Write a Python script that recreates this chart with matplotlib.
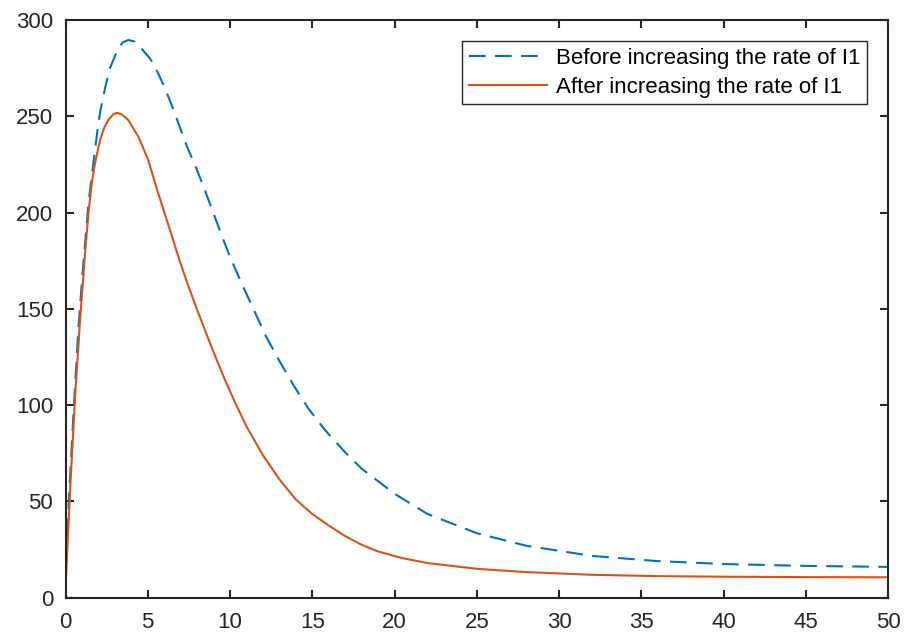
import matplotlib
matplotlib.use("Agg")
import matplotlib.pyplot as plt

# Data
t_before = [0, 0.2, 0.5, 0.8, 1.1, 1.4, 1.7, 1.96, 2.1, 2.4, 2.7, 3.2, 3.5, 3.82, 4.2,
            4.53, 5.14, 5.54, 6.05, 6.49, 6.9, 7.4, 8, 8.5, 9, 9.5, 10, 10.8, 11.5, 12.2,
            13, 13.85, 14.76, 15.78, 17, 18, 20, 22, 25, 28, 32, 36, 40, 45, 50]
y_before = [5.5, 50, 98, 142, 175, 205, 226, 243.7, 252, 264.5, 275, 285.2, 288.5, 289.6, 288.8,
            286, 280, 274, 264.5, 255, 245.5, 234, 222, 211, 199.5, 188, 177, 161.5, 148.5, 135.5,
            123, 110.5, 98.3, 87, 75.5, 67, 54, 43.5, 33.5, 27, 21.7, 19, 17.5, 16.5, 16]

t_after = [0, 0.3, 0.6, 0.9, 1.2, 1.4, 1.59, 1.79, 2.1, 2.35, 2.6, 2.9, 3.15, 3.45, 3.82,
           4.43, 5.03, 5.54, 6.2, 6.9, 7.4, 8, 8.5, 9, 9.7, 10.3, 11, 12, 13, 14, 15, 16, 17, 18, 19,
           20.5, 22, 25, 28, 32, 36, 40, 45, 50]
y_after = [5.5, 59, 107, 146, 180, 200, 215, 225.5, 237.6, 244, 248, 251, 251.8, 250.8, 248,
           239.4, 227.3, 212.6, 195, 176, 163.5, 149.5, 138.5, 127.5, 113, 101.5, 89, 74, 61.5, 51, 43.5,
           37.5, 32, 27.5, 24, 20.5, 18, 15, 13.3, 11.9, 11.2, 10.9, 10.7, 10.6]

labels = ["Before increasing the rate of I1", "After increasing the rate of I1"]
x_ticks = list(range(0, 51, 5))
y_ticks = list(range(0, 301, 50))

plt.rcParams['font.family'] = ['Liberation Sans', 'DejaVu Sans']

fig = plt.figure(figsize=(9.06, 6.37), dpi=100)
ax = fig.add_axes([65.5 / 906, 39.3 / 637, (888 - 65.5) / 906, (597.7 - 20) / 637])

ax.plot(t_before, y_before, color='#0072BD', lw=1.5, linestyle=(0, (8, 4.5)), label=labels[0])
ax.plot(t_after, y_after, color='#D95319', lw=1.5, label=labels[1])

ax.set_xlim(0, 50)
ax.set_ylim(0, 300)
ax.set_xticks(x_ticks)
ax.set_yticks(y_ticks)

dark = '#262626'
for s in ax.spines.values():
    s.set_color(dark)
    s.set_linewidth(1.5)
ax.tick_params(direction='in', length=6, width=1.5, colors=dark, labelsize=16,
               top=True, right=True)
ax.tick_params(axis='x', pad=10)
ax.tick_params(axis='y', pad=9)

leg = ax.legend(loc='upper right', fontsize=16, handlelength=3.5, handletextpad=0.4,
                borderaxespad=0.95, fancybox=False, framealpha=1, edgecolor=dark,
                labelspacing=0.35, borderpad=0.3)
leg.get_frame().set_linewidth(1.0)

fig.savefig('out.png', dpi=100)
